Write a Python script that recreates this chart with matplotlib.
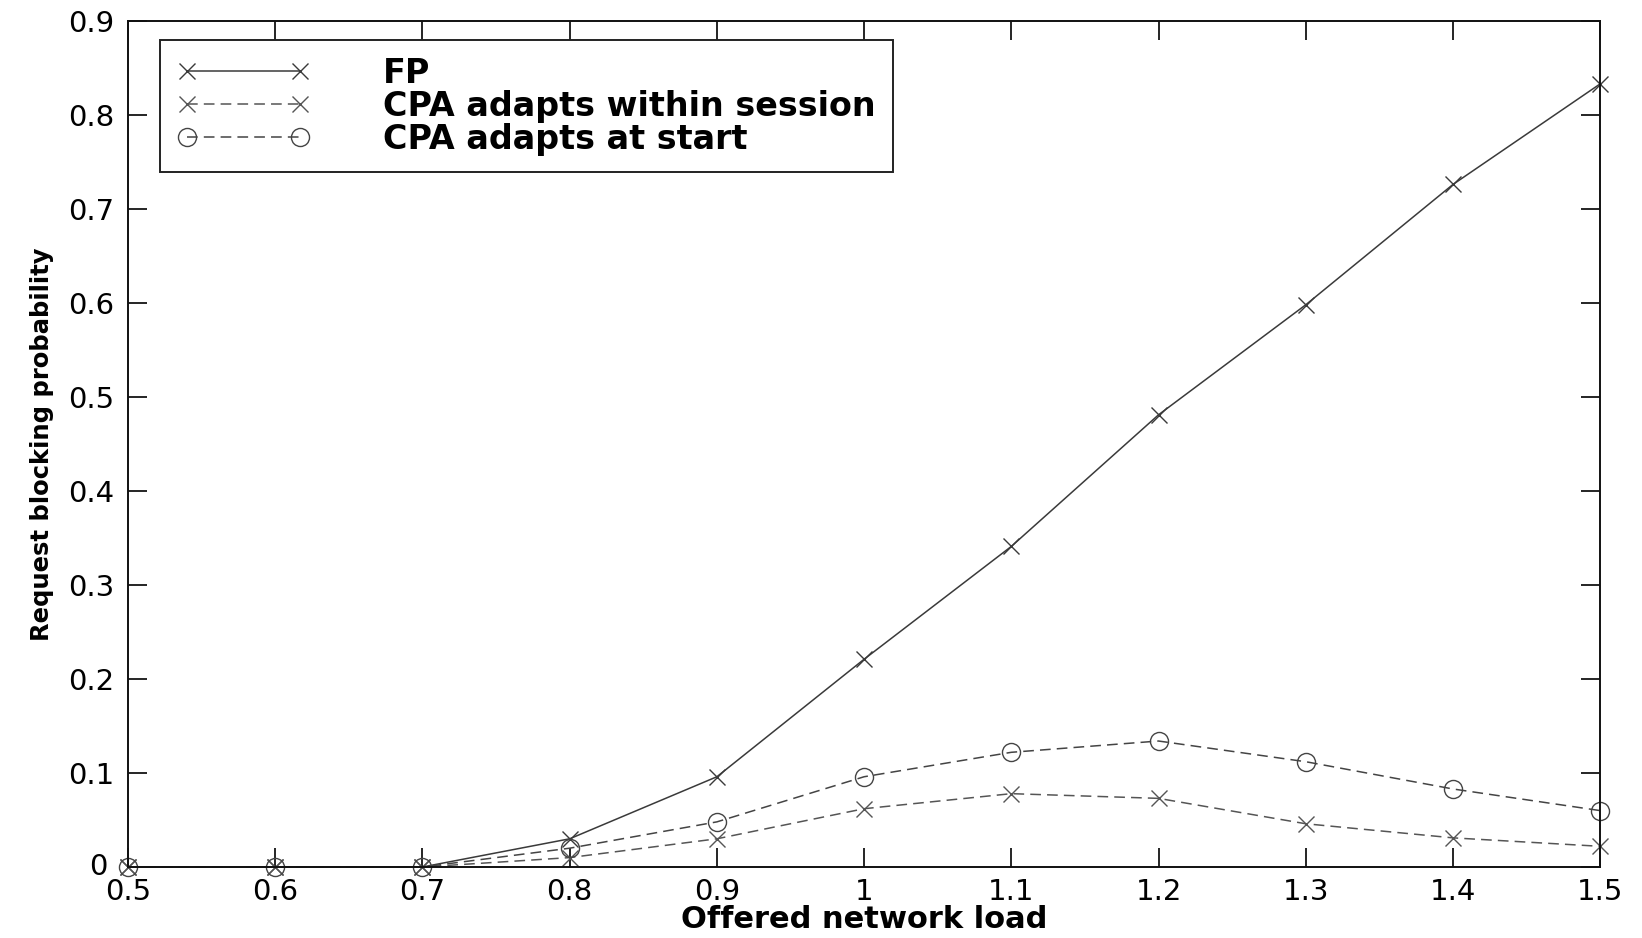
import matplotlib
matplotlib.use("Agg")
import matplotlib.pyplot as plt
import matplotlib.transforms as mtransforms

# offered load vs blocking probability
load = [0.5, 0.6, 0.7, 0.8, 0.9, 1.0, 1.1, 1.2, 1.3, 1.4, 1.5]
fp = [0, 0, 0, 0.030, 0.096, 0.221, 0.341, 0.481, 0.598, 0.726, 0.833]
cpa_within = [0, 0, 0, 0.010, 0.030, 0.062, 0.078, 0.073, 0.046, 0.031, 0.022]
cpa_start = [0, 0, 0, 0.020, 0.048, 0.096, 0.122, 0.134, 0.112, 0.083, 0.060]

xticks = [0.5, 0.6, 0.7, 0.8, 0.9, 1.0, 1.1, 1.2, 1.3, 1.4, 1.5]
xticklabels = ["0.5", "0.6", "0.7", "0.8", "0.9", "1", "1.1", "1.2", "1.3", "1.4", "1.5"]
yticks = [0, 0.1, 0.2, 0.3, 0.4, 0.5, 0.6, 0.7, 0.8, 0.9]
yticklabels = ["0", "0.1", "0.2", "0.3", "0.4", "0.5", "0.6", "0.7", "0.8", "0.9"]

plt.rcParams["font.family"] = ["DejaVu Sans"]

fig = plt.figure(figsize=(16.42, 9.38), dpi=100)
ax = fig.add_axes([0.078, 0.0757, 0.8965, 0.902])

ax.plot(load, fp, color="#3a3a3a", lw=1.1, ls="-", marker="x",
        ms=11, mew=1.0, label="FP", clip_on=False)
ax.plot(load, cpa_within, color="#555555", lw=1.1, ls=(0, (7, 4)), marker="x",
        ms=11, mew=1.0, label="CPA adapts within session", clip_on=False)
ax.plot(load, cpa_start, color="#444444", lw=1.1, ls=(0, (7, 4)), marker="o",
        ms=13, mew=1.0, mfc="none", label="CPA adapts at start", clip_on=False)

ax.set_xlim(0.5, 1.5)
ax.set_ylim(0, 0.9)
ax.set_xticks(xticks)
ax.set_xticklabels(xticklabels)
ax.set_yticks(yticks)
ax.set_yticklabels(yticklabels)
ax.tick_params(direction="in", length=14, width=1.2, labelsize=21,
               top=True, right=True)
ax.tick_params(axis="x", pad=8)
ax.tick_params(axis="y", pad=10)
for s in ax.spines.values():
    s.set_linewidth(1.4)
    s.set_color("#111111")

# nudge the "0" label so it does not sit on the "0.5" label
lab0 = ax.get_yticklabels()[0]
lab0.set_transform(lab0.get_transform() +
                   mtransforms.ScaledTranslation(-0.07, 0.03, fig.dpi_scale_trans))

ax.set_xlabel("Offered network load", fontsize=22, fontweight="bold", labelpad=-1)
ax.set_ylabel("Request blocking probability", fontsize=17.5, fontweight="bold", labelpad=10)

leg = ax.legend(loc="upper left", bbox_to_anchor=(0.0217, 0.9775),
                borderaxespad=0, numpoints=2,
                prop={"size": 24, "weight": "bold"}, handlelength=4.0,
                handletextpad=2.2, labelspacing=0.0, borderpad=0.5,
                fancybox=False, framealpha=1, edgecolor="#222222")
leg.get_frame().set_linewidth(1.4)

fig.savefig("out.png", dpi=100)
